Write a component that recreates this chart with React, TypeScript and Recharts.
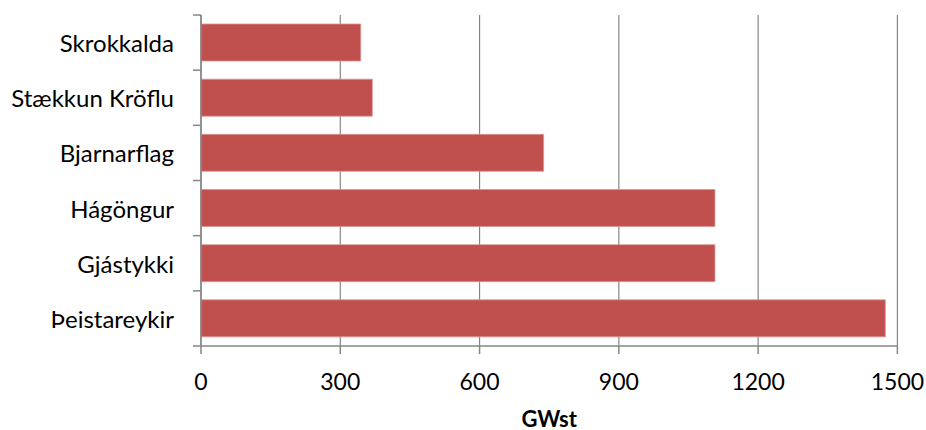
import React from "react"
import {
  BarChart,
  Bar,
  XAxis,
  YAxis,
  CartesianGrid,
  Label
} from "recharts"

const plants = [
  "Skrokkalda",
  "Stækkun Kröflu",
  "Bjarnarflag",
  "Hágöngur",
  "Gjástykki",
  "Þeistareykir"
]

const energy = [344, 369, 738, 1107, 1107, 1474]

const xTicks = [0, 300, 600, 900, 1200, 1500]

const data = plants.map((name, i) => ({ name, value: energy[i] }))

const WIDTH = 926
const HEIGHT = 430
const MARGIN = { top: 15, right: 28.6, bottom: 0, left: 0 }
const Y_AXIS_WIDTH = 201
const X_AXIS_HEIGHT = 84
const PLOT_BOTTOM = HEIGHT - MARGIN.bottom - X_AXIS_HEIGHT
const BAND = (PLOT_BOTTOM - MARGIN.top) / plants.length
const AXIS_X = MARGIN.left + Y_AXIS_WIDTH

const FONT = "Lato, 'Open Sans', sans-serif"
const AXIS_COLOR = "#868686"

// category label plus the small boundary ticks between bands
function CategoryTick(props: any) {
  const { y, payload, index } = props
  const top = y - BAND / 2
  const bottom = y + BAND / 2
  return (
    <g>
      <line x1={AXIS_X - 8} x2={AXIS_X} y1={top} y2={top} stroke={AXIS_COLOR} strokeWidth={1.5} />
      {index === plants.length - 1 && (
        <line x1={AXIS_X - 8} x2={AXIS_X} y1={bottom} y2={bottom} stroke={AXIS_COLOR} strokeWidth={1.5} />
      )}
      <text
        x={AXIS_X - 27}
        y={y}
        textAnchor="end"
        dominantBaseline="central"
        fontFamily={FONT}
        fontSize={24}
        fill="#000"
      >
        {payload.value}
      </text>
    </g>
  )
}

function ValueTick(props: any) {
  const { x, payload } = props
  return (
    <text
      x={x}
      y={PLOT_BOTTOM + 35}
      textAnchor="middle"
      dominantBaseline="central"
      fontFamily={FONT}
      fontSize={23}
      fill="#000"
    >
      {payload.value}
    </text>
  )
}

export default function App() {
  return (
    <div style={{ width: WIDTH, height: HEIGHT }}>
      <style>{"body { margin: 0; }"}</style>
      <BarChart
        width={WIDTH}
        height={HEIGHT}
        data={data}
        layout="vertical"
        margin={MARGIN}
      >
        <CartesianGrid horizontal={false} stroke={AXIS_COLOR} strokeWidth={1.2} />
        <XAxis
          type="number"
          domain={[0, 1500]}
          ticks={xTicks}
          interval={0}
          height={X_AXIS_HEIGHT}
          tick={<ValueTick />}
          tickSize={8}
          tickLine={{ stroke: AXIS_COLOR, strokeWidth: 1.5 }}
          axisLine={{ stroke: AXIS_COLOR, strokeWidth: 1.5 }}
        >
          <Label
            content={({ viewBox }: any) => (
              <text
                x={viewBox.x + viewBox.width / 2}
                y={PLOT_BOTTOM + 72}
                textAnchor="middle"
                dominantBaseline="central"
                fontFamily={FONT}
                fontSize={22}
                fontWeight="bold"
                fill="#000"
              >
                GWst
              </text>
            )}
          />
        </XAxis>
        <YAxis
          type="category"
          dataKey="name"
          width={Y_AXIS_WIDTH}
          interval={0}
          tickLine={false}
          tick={<CategoryTick />}
          axisLine={{ stroke: AXIS_COLOR, strokeWidth: 1.5 }}
        />
        <Bar
          dataKey="value"
          fill="#C0504D"
          stroke="#D99694"
          strokeWidth={0.8}
          barSize={37}
          isAnimationActive={false}
        />
      </BarChart>
    </div>
  )
}
